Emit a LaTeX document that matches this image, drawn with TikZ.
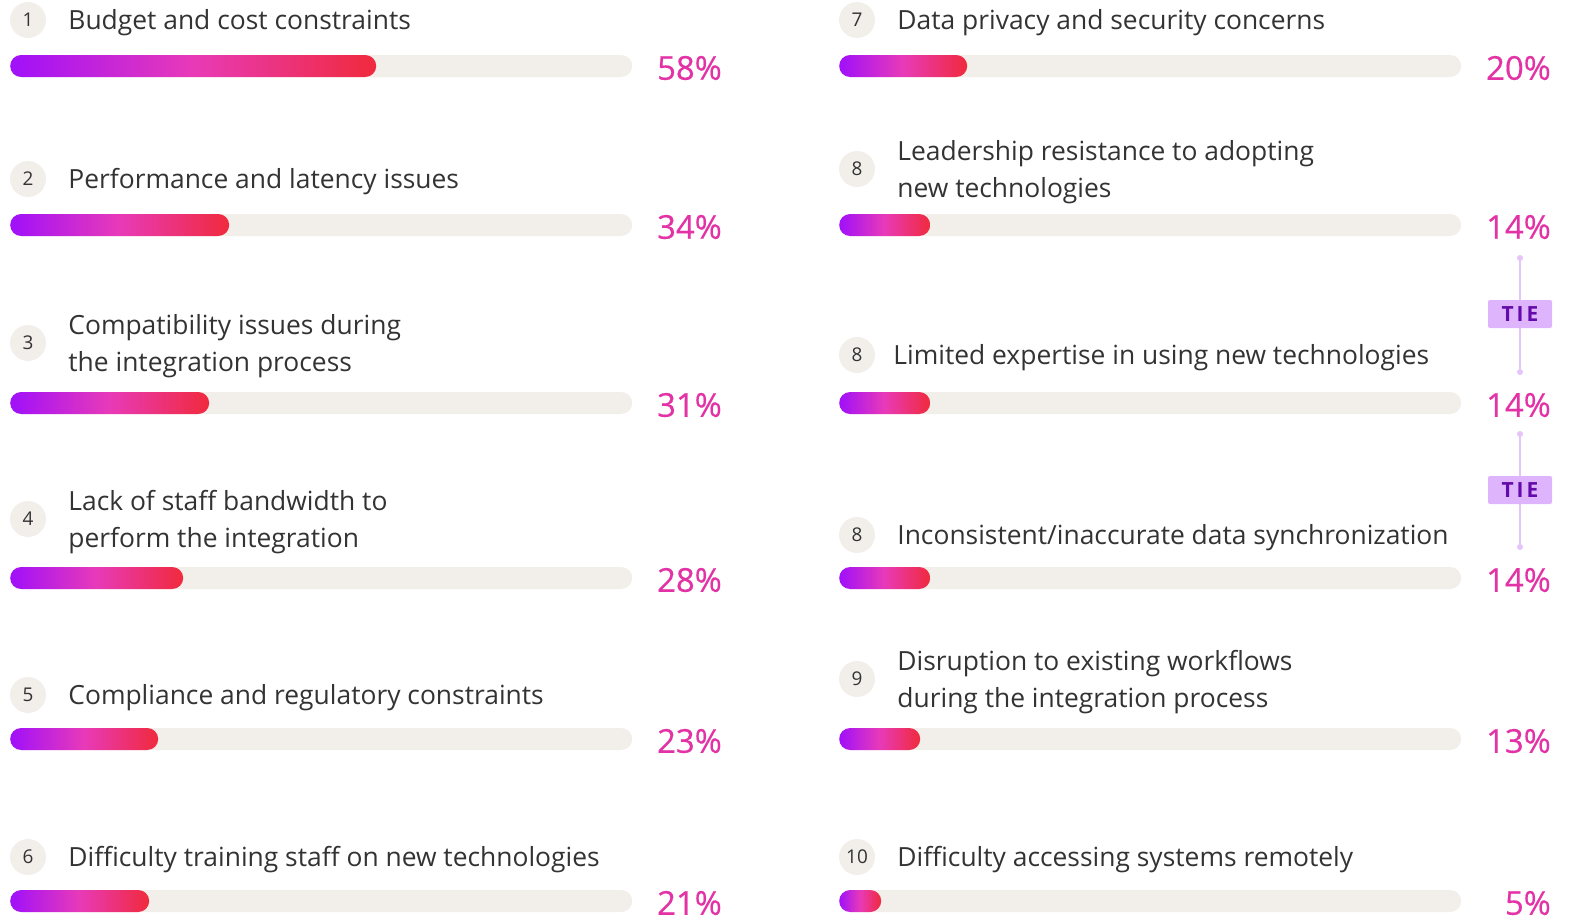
\documentclass[tikz,border=0pt]{standalone}
\usepackage{fontspec}
\setmainfont{Open Sans}
\newfontfamily\tiefont{Open Sans}[LetterSpace=14]
\newfontfamily\pctfont{Open Sans}[FakeBold=0.5]
\usetikzlibrary{positioning}
\definecolor{trackgray}{RGB}{242, 239, 235}
\definecolor{textgray}{RGB}{51, 51, 51}
\definecolor{barpurple}{RGB}{160, 16, 250}
\definecolor{barpink}{RGB}{232, 58, 184}
\definecolor{barred}{RGB}{240, 42, 60}
\definecolor{pctpink}{RGB}{226, 50, 165}
\definecolor{tielav}{RGB}{222, 180, 252}
\definecolor{tiestemcol}{RGB}{228, 196, 250}
\definecolor{tietext}{RGB}{100, 10, 170}

\begin{document}
\begin{tikzpicture}[
    x=1bp, y=-1bp,
    node distance=22bp,
    track/.style={
        rectangle,
        rounded corners=11bp,
        fill=trackgray,
        minimum width=622bp,
        minimum height=22bp,
        inner sep=0pt,
        anchor=west
    },
    barfill/.style={
        rectangle,
        rounded corners=11bp,
        left color=barpurple, right color=barred, middle color=barpink,
        minimum height=22bp,
        inner sep=0pt,
        anchor=west
    },
    numdot/.style={circle, fill=trackgray, minimum size=36bp, inner sep=0pt, text=textgray, font=\fontsize{19}{19}\selectfont},
    itemlabel/.style={inner sep=0pt, anchor=west, yshift=-3bp, align=left, text=textgray, font=\fontsize{26.5}{37}\selectfont},
    pctlabel/.style={inner sep=0pt, anchor=east, text=pctpink, font=\pctfont\fontsize{33}{33}\selectfont},
    tiebox/.style={rectangle, rounded corners=2bp, fill=tielav, minimum width=64bp, minimum height=28bp, inner sep=0pt, text=tietext, font=\tiefont\bfseries\fontsize{21}{21}\selectfont},
    tiedot/.style={circle, fill=tiestemcol, minimum size=6bp, inner sep=0pt},
    tiestem/.style={draw=tiestemcol, line width=2bp}
]
    \useasboundingbox (0,0) rectangle (1579,923);

    % --- Left column ---

    % Row 1
    \node[numdot] (n1) at (28,20) {1};
    \node[itemlabel, right=22bp of n1] (l1) {Budget and cost constraints};
    \node[track] (t1) at (10,66) {};
    \node[barfill, minimum width=366bp] (b1) at (t1.west) {};
    \node[pctlabel] (p1) at (722,68) {58\%};

    % Row 2
    \node[numdot] (n2) at (28,179) {2};
    \node[itemlabel, right=22bp of n2] (l2) {Performance and latency issues};
    \node[track] (t2) at (10,225) {};
    \node[barfill, minimum width=219bp] (b2) at (t2.west) {};
    \node[pctlabel] (p2) at (722,227) {34\%};

    % Row 3
    \node[numdot] (n3) at (28,343) {3};
    \node[itemlabel, right=22bp of n3] (l3) {Compatibility issues during\\the integration process};
    \node[track] (t3) at (10,403) {};
    \node[barfill, minimum width=199bp] (b3) at (t3.west) {};
    \node[pctlabel] (p3) at (722,405) {31\%};

    % Row 4
    \node[numdot] (n4) at (28,519) {4};
    \node[itemlabel, right=22bp of n4] (l4) {Lack of staff bandwidth to\\perform the integration};
    \node[track] (t4) at (10,578) {};
    \node[barfill, minimum width=173bp] (b4) at (t4.west) {};
    \node[pctlabel] (p4) at (722,580) {28\%};

    % Row 5
    \node[numdot] (n5) at (28,695) {5};
    \node[itemlabel, right=22bp of n5] (l5) {Compliance and regulatory constraints};
    \node[track] (t5) at (10,739) {};
    \node[barfill, minimum width=148bp] (b5) at (t5.west) {};
    \node[pctlabel] (p5) at (722,741) {23\%};

    % Row 6
    \node[numdot] (n6) at (28,857) {6};
    \node[itemlabel, right=22bp of n6] (l6) {Difficulty training staff on new technologies};
    \node[track] (t6) at (10,901) {};
    \node[barfill, minimum width=139bp] (b6) at (t6.west) {};
    \node[pctlabel] (p6) at (722,903) {21\%};

    % --- Right column ---

    % Row 7
    \node[numdot] (n7) at (857,20) {7};
    \node[itemlabel, right=22bp of n7] (l7) {Data privacy and security concerns};
    \node[track] (t7) at (839,66) {};
    \node[barfill, minimum width=128bp] (b7) at (t7.west) {};
    \node[pctlabel] (p7) at (1551,68) {20\%};

    % Row 8
    \node[numdot] (n8) at (857,169) {8};
    \node[itemlabel, right=22bp of n8] (l8) {Leadership resistance to adopting\\new technologies};
    \node[track] (t8) at (839,225) {};
    \node[barfill, minimum width=91bp] (b8) at (t8.west) {};
    \node[pctlabel] (p8) at (1551,227) {14\%};

    % Row 8 (second)
    \node[numdot] (n8b) at (857,355) {8};
    \node[itemlabel, right=18bp of n8b] (l8b) {Limited expertise in using new technologies};
    \node[track] (t8b) at (839,403) {};
    \node[barfill, minimum width=91bp] (b8b) at (t8b.west) {};
    \node[pctlabel] (p8b) at (1551,405) {14\%};

    % Row 8 (third)
    \node[numdot] (n8c) at (857,535) {8};
    \node[itemlabel, right=22bp of n8c] (l8c) {Inconsistent/inaccurate data synchronization};
    \node[track] (t8c) at (839,578) {};
    \node[barfill, minimum width=91bp] (b8c) at (t8c.west) {};
    \node[pctlabel] (p8c) at (1551,580) {14\%};

    % Row 9
    \node[numdot] (n9) at (857,679) {9};
    \node[itemlabel, right=22bp of n9] (l9) {Disruption to existing workflows\\during the integration process};
    \node[track] (t9) at (839,739) {};
    \node[barfill, minimum width=81bp] (b9) at (t9.west) {};
    \node[pctlabel] (p9) at (1551,741) {13\%};

    % Row 10
    \node[numdot] (n10) at (857,857) {10};
    \node[itemlabel, right=22bp of n10] (l10) {Difficulty accessing systems remotely};
    \node[track] (t10) at (839,901) {};
    \node[barfill, minimum width=42bp] (b10) at (t10.west) {};
    \node[pctlabel] (p10) at (1551,903) {5\%};

    % --- Ties ---
    \node[tiedot] (d1) at (1520,258) {};
    \node[tiedot] (d2) at (1520,372) {};
    \draw[tiestem] (d1) -- (d2);
    \node[tiebox] (tie1) at (1520,314) {TIE};

    \node[tiedot] (d3) at (1520,434) {};
    \node[tiedot] (d4) at (1520,547) {};
    \draw[tiestem] (d3) -- (d4);
    \node[tiebox] (tie2) at (1520,490) {TIE};

\end{tikzpicture}
\end{document}
